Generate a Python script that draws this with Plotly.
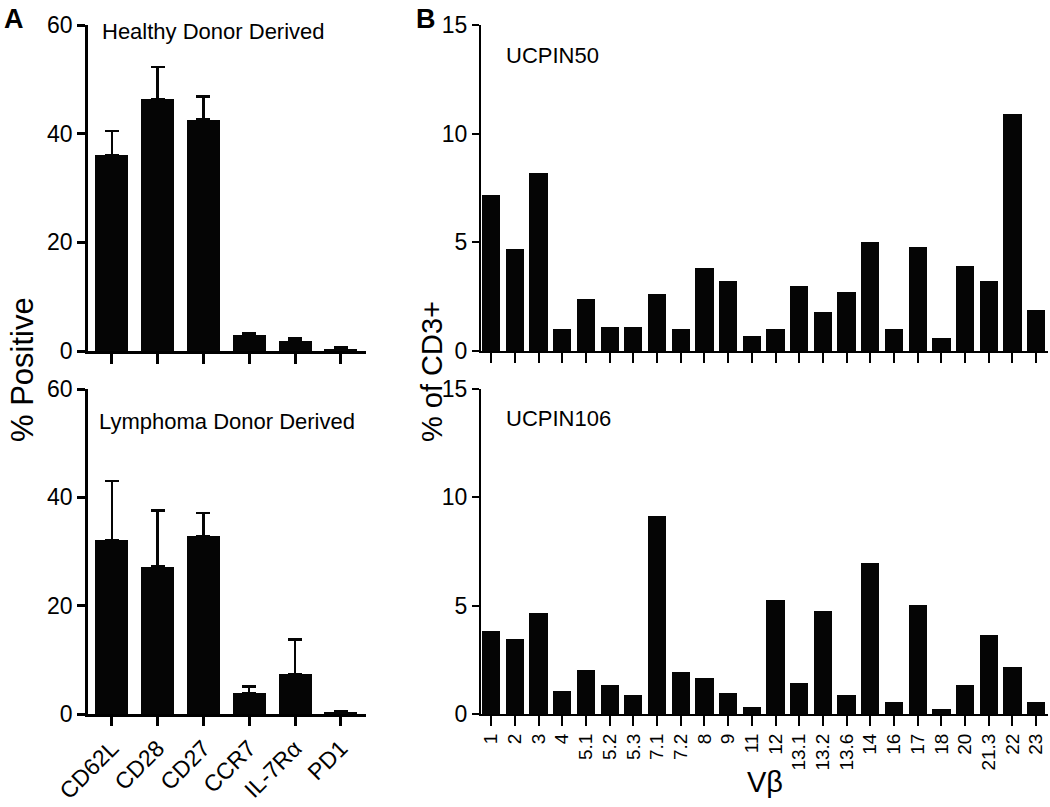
import plotly.graph_objects as go

# ---------------- data ----------------
markers = ["CD62L", "CD28", "CD27", "CCR7", "IL-7Rα", "PD1"]
healthy_vals = [36.0, 46.3, 42.6, 2.9, 1.9, 0.4]
healthy_err = [4.5, 6.0, 4.2, 0.4, 0.5, 0.2]
lymphoma_vals = [32.1, 27.2, 32.8, 3.8, 7.3, 0.4]
lymphoma_err = [10.9, 10.4, 4.3, 1.3, 6.5, 0.1]

vb_labels = ["1", "2", "3", "4", "5.1", "5.2", "5.3", "7.1", "7.2", "8", "9", "11",
             "12", "13.1", "13.2", "13.6", "14", "16", "17", "18", "20", "21.3", "22", "23"]
ucpin50 = [7.2, 4.7, 8.2, 1.0, 2.4, 1.1, 1.1, 2.6, 1.0, 3.8, 3.2, 0.7,
           1.0, 3.0, 1.8, 2.7, 5.0, 1.0, 4.8, 0.6, 3.9, 3.2, 10.9, 1.9]
ucpin106 = [3.85, 3.45, 4.65, 1.05, 2.05, 1.35, 0.88, 9.15, 1.95, 1.65, 0.95, 0.32,
            5.25, 1.45, 4.75, 0.88, 6.95, 0.55, 5.05, 0.23, 1.35, 3.65, 2.15, 0.55]

W, H = 1050, 807
FONT = "Liberation Sans, Arial, sans-serif"


def px_x(p):
    return p / W


def px_y(p):
    return 1 - p / H


fig = go.Figure()

ia = list(range(len(markers)))
ib = list(range(len(vb_labels)))

fig.add_trace(go.Bar(x=ia, y=healthy_vals, width=0.72, marker=dict(color="#050505", line=dict(width=0)),
                     error_y=dict(type="data", symmetric=False, array=healthy_err, arrayminus=[0] * 6,
                                  color="#050505", thickness=2.5, width=7),
                     xaxis="x", yaxis="y", showlegend=False))
fig.add_trace(go.Bar(x=ia, y=lymphoma_vals, width=0.72, marker=dict(color="#050505", line=dict(width=0)),
                     error_y=dict(type="data", symmetric=False, array=lymphoma_err, arrayminus=[0] * 6,
                                  color="#050505", thickness=2.5, width=7),
                     xaxis="x2", yaxis="y2", showlegend=False))
fig.add_trace(go.Bar(x=ib, y=ucpin50, width=0.77, marker=dict(color="#050505", line=dict(width=0)),
                     xaxis="x3", yaxis="y3", showlegend=False))
fig.add_trace(go.Bar(x=ib, y=ucpin106, width=0.77, marker=dict(color="#050505", line=dict(width=0)),
                     xaxis="x4", yaxis="y4", showlegend=False))

axis_common = dict(showline=True, linecolor="black", linewidth=2.5, showgrid=False, zeroline=False,
                   ticks="outside", tickcolor="black", tickwidth=2.5, fixedrange=True, automargin=False,
                   tickfont=dict(family=FONT, size=23, color="black"))

dA = [px_x(88), px_x(366)]
dB = [px_x(481), px_x(1048)]
dTop = [px_y(351), px_y(25)]
dBot = [px_y(714), px_y(389)]

fig.update_layout(
    width=W, height=H, margin=dict(l=0, r=0, t=0, b=0, pad=0, autoexpand=False),
    paper_bgcolor="white", plot_bgcolor="white", bargap=0,
    xaxis=dict(axis_common, domain=dA, anchor="y", range=[-0.52, 5.55], tickvals=ia,
               showticklabels=False, ticklen=10),
    yaxis=dict(axis_common, domain=dTop, anchor="x", range=[0, 60], tickvals=[0, 20, 40, 60], ticklen=8),
    xaxis2=dict(axis_common, domain=dA, anchor="y2", range=[-0.52, 5.55], tickvals=ia, ticktext=markers,
                tickangle=-45, ticklen=9, tickfont=dict(family=FONT, size=23, color="black")),
    yaxis2=dict(axis_common, domain=dBot, anchor="x2", range=[0, 60], tickvals=[0, 20, 40, 60], ticklen=8),
    xaxis3=dict(axis_common, domain=dB, anchor="y3", range=[-0.43, 23.5], tickvals=ib,
                showticklabels=False, ticklen=10, linewidth=2, tickwidth=2),
    yaxis3=dict(axis_common, domain=dTop, anchor="x3", range=[0, 15], tickvals=[0, 5, 10, 15], ticklen=7,
                linewidth=2, tickwidth=2),
    xaxis4=dict(axis_common, domain=dB, anchor="y4", range=[-0.43, 23.5], tickvals=ib, ticktext=vb_labels,
                tickangle=-90, ticklen=10, linewidth=2, tickwidth=2,
                tickfont=dict(family=FONT, size=19, color="black")),
    yaxis4=dict(axis_common, domain=dBot, anchor="x4", range=[0, 15], tickvals=[0, 5, 10, 15], ticklen=7,
                linewidth=2, tickwidth=2),
)

ann = [
    dict(text="<b>A</b>", x=px_x(2), y=px_y(2), xanchor="left", yanchor="top", size=27),
    dict(text="<b>B</b>", x=px_x(414), y=px_y(2), xanchor="left", yanchor="top", size=27),
    dict(text="Healthy Donor Derived", x=px_x(100), y=px_y(32), xanchor="left", yanchor="middle", size=22),
    dict(text="Lymphoma Donor Derived", x=px_x(97), y=px_y(421), xanchor="left", yanchor="middle", size=22),
    dict(text="UCPIN50", x=px_x(504), y=px_y(55), xanchor="left", yanchor="middle", size=22),
    dict(text="UCPIN106", x=px_x(504), y=px_y(418), xanchor="left", yanchor="middle", size=22),
    dict(text="Vβ", x=px_x(765), y=px_y(782), xanchor="center", yanchor="middle", size=29),
]
for a in ann:
    fig.add_annotation(text=a["text"], x=a["x"], y=a["y"], xref="paper", yref="paper",
                       xanchor=a["xanchor"], yanchor=a["yanchor"], showarrow=False,
                       font=dict(family=FONT, size=a["size"], color="black"))

for txt, xp, yp, fs in [("% Positive", 22, 370, 31), ("% of CD3+", 432, 372, 29)]:
    fig.add_annotation(text=txt, x=px_x(xp), y=px_y(yp), xref="paper", yref="paper",
                       xanchor="center", yanchor="middle", textangle=-90, showarrow=False,
                       font=dict(family=FONT, size=fs, color="black"))

fig.write_html("out.html", config={"displayModeBar": False},
               post_script="document.body.style.margin='0';")
